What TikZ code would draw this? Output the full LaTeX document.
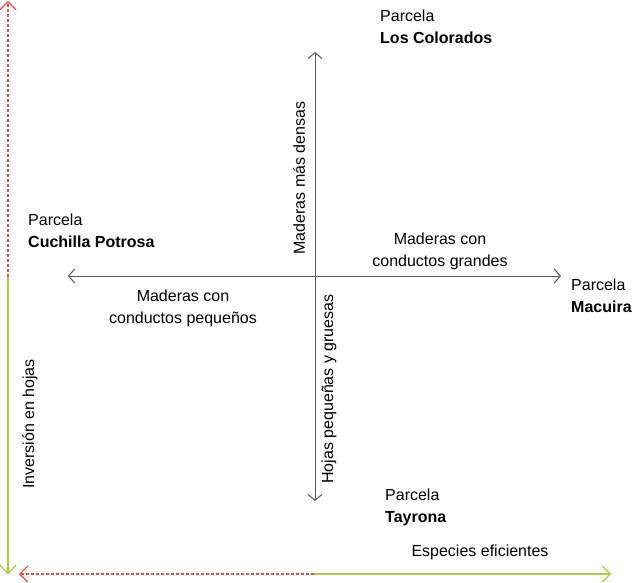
\documentclass[tikz,border=0pt]{standalone}
\usepackage{fontspec}
\setmainfont{Liberation Sans}
\usetikzlibrary{arrows.meta}
\definecolor{axred}{HTML}{EE4A42}
\definecolor{axgreen}{HTML}{B2C93A}
\definecolor{crossgray}{HTML}{5A5A5A}

\begin{document}
\begin{tikzpicture}[x=1pt,y=-1pt]
\tikzstyle{txt}=[inner sep=0pt,font=\fontsize{16}{22}\selectfont]
\tikzstyle{parcela}=[txt,anchor=north west,align=left]
\tikzstyle{cross}=[draw=crossgray,line width=1pt,{Straight Barb[length=6pt,width=14pt]}-{Straight Barb[length=6pt,width=14pt]}]
\tikzstyle{redaxis}=[draw=axred,line width=1.2pt,dash pattern=on 3pt off 2pt,-{Straight Barb[length=8pt,width=16pt]}]
\tikzstyle{greenaxis}=[draw=axgreen,line width=1.2pt,-{Straight Barb[length=8pt,width=16pt]}]
\useasboundingbox (0,0) rectangle (635,583);

% ========= cross
\coordinate (top) at (315,52);
\coordinate (bot) at (315,501);
\coordinate (lft) at (68,276);
\coordinate (rgt) at (561,276);
\draw [cross] (bot) -- (top);
\draw [cross] (lft) -- (rgt);

% ========= outer axes
\coordinate (yaxis) at (8,277);
\coordinate (ytop) at (8,1);
\coordinate (ybot) at (8,574);
\coordinate (xaxis) at (314,574);
\coordinate (xlft) at (19,574);
\coordinate (xrgt) at (611,574);
\draw [redaxis] (yaxis) -- (ytop);
\draw [greenaxis] (yaxis) -- (ybot);
\draw [redaxis] (xaxis) -- (xlft);
\draw [greenaxis] (xaxis) -- (xrgt);

% ========= parcelas
\node (colorados) [parcela] at (380,10) {Parcela\\\textbf{Los Colorados}};
\node (cuchilla) [parcela] at (28,214) {Parcela\\\textbf{Cuchilla Potrosa}};
\node (macuira) [parcela] at (571,279) {Parcela\\\textbf{Macuira}};
\node (tayrona) [parcela] at (385,489) {Parcela\\\textbf{Tayrona}};

%% ===== comments
\node (densas) [txt,rotate=90] at (299,178) {Maderas más densas};
\node (hojas) [txt,rotate=90] at (329,389) {Hojas pequeñas y gruesas};
\node (grandes) [txt,anchor=north,align=center] at (440,233) {Maderas con\\conductos grandes};
\node (pequenos) [txt,anchor=north,align=center] at (183,290) {Maderas con\\conductos pequeños};
\node (inversion) [txt,rotate=90] at (30,424) {Inversión en hojas};
\node (eficientes) [txt] at (480,552) {Especies eficientes};
\end{tikzpicture}
\end{document}
